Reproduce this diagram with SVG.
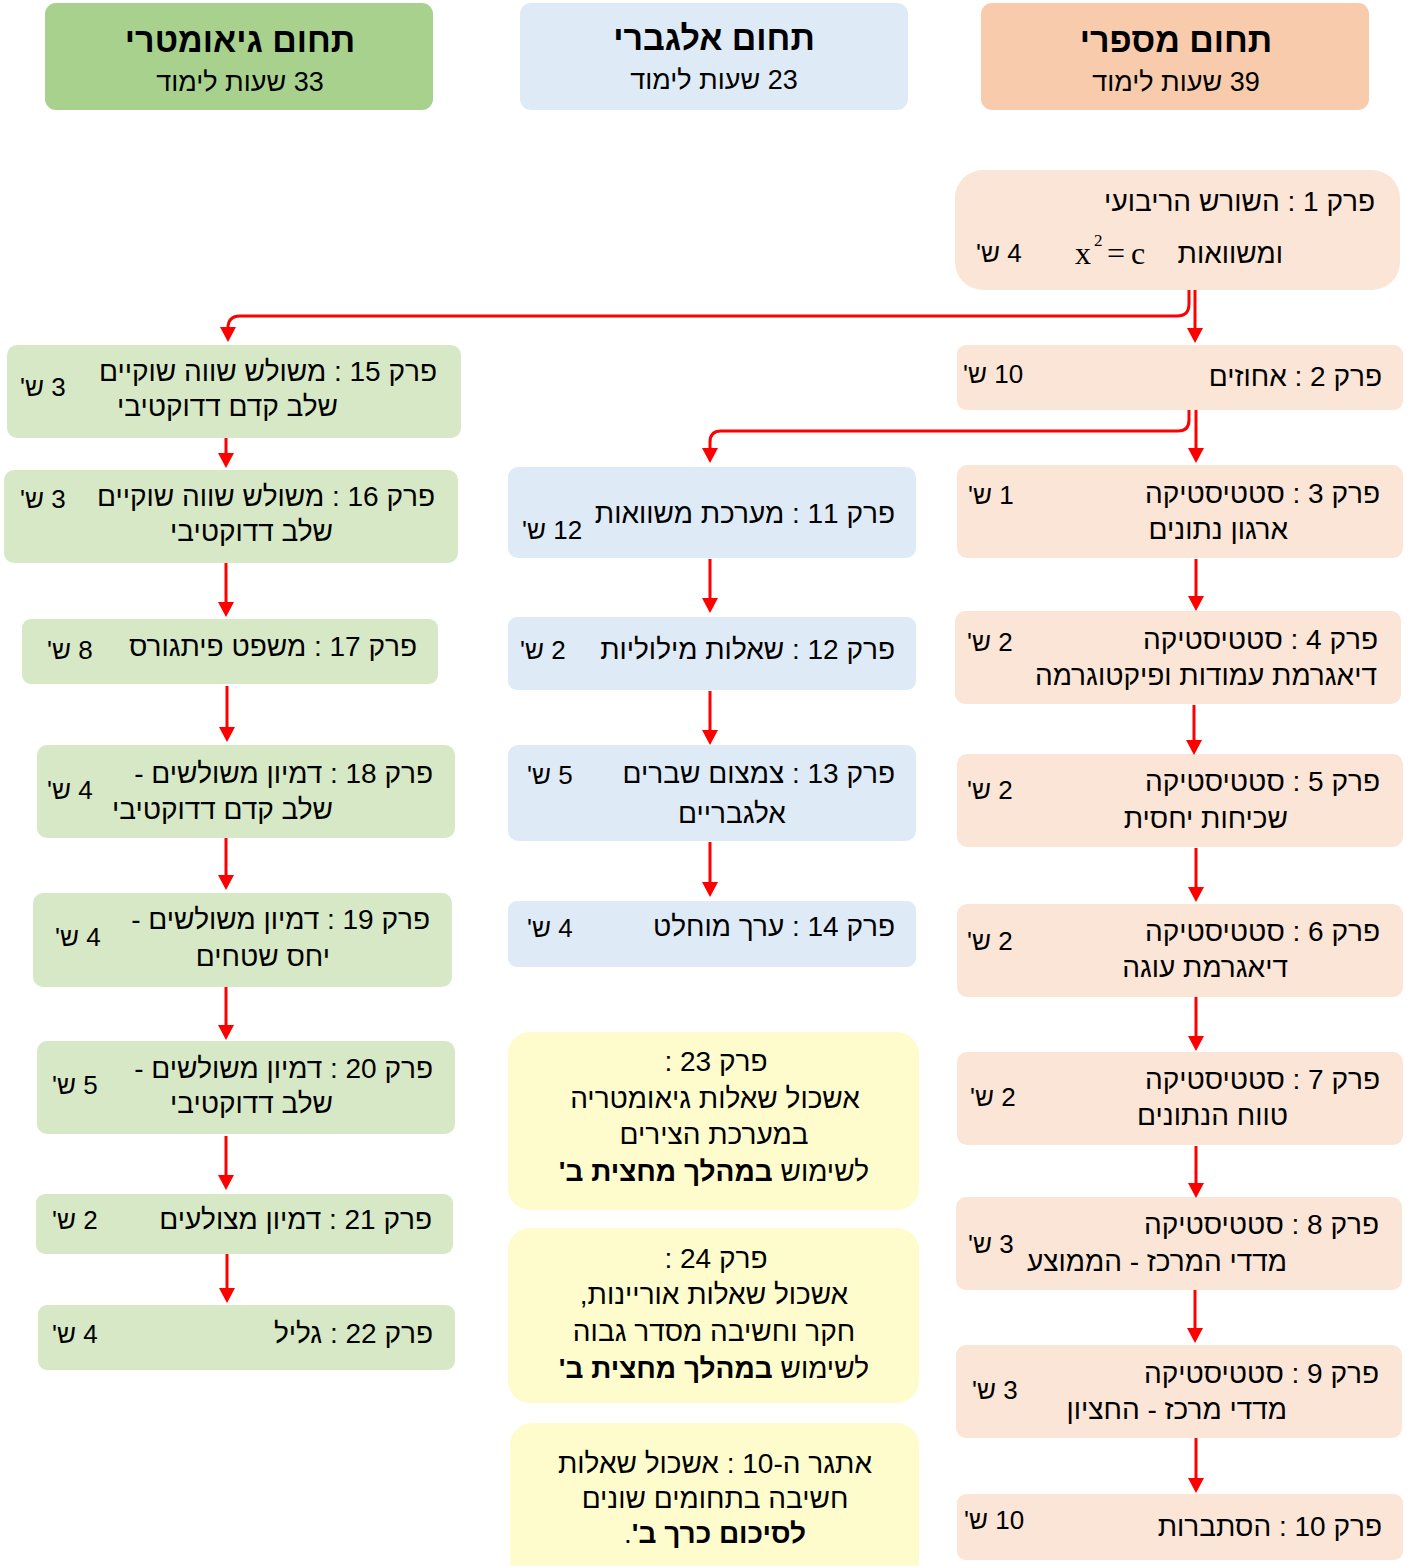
<svg xmlns="http://www.w3.org/2000/svg" width="1412" height="1566" viewBox="0 0 1412 1566">
<style>
text{font-family:"Liberation Sans","DejaVu Sans",sans-serif;font-size:28px;fill:#000;direction:rtl}
.r{text-anchor:start}
.l{text-anchor:end;font-size:26px}
.c{text-anchor:middle}
.h{font-size:34px;font-weight:bold}
.sub{font-size:27px}
.b{font-weight:bold}
.m{direction:ltr;font-family:"Liberation Serif",serif;font-size:32px}
.num{fill:#fbe5d6}
.numh{fill:#f8cbad}
.alg{fill:#deebf7}
.geo{fill:#d6e8c6}
.geoh{fill:#a9d18e}
.yel{fill:#fefccd}
.con path{fill:none;stroke:#ff0000;stroke-width:3}
</style>
<defs>
<marker id="ah" markerUnits="userSpaceOnUse" markerWidth="16" markerHeight="16" refX="11" refY="8" orient="auto">
<path d="M0,0 L15,8 L0,16 z" fill="#ff0000"/>
</marker>
</defs>

<g id="hdr-geo"><rect x="45" y="3" width="388" height="107" rx="11" class="geoh"/><text class="c h" x="240" y="52">תחום גיאומטרי</text><text class="c sub" x="240" y="91">33 שעות לימוד</text></g>
<g id="hdr-alg"><rect x="520" y="3" width="388" height="107" rx="11" class="alg"/><text class="c h" x="714" y="50">תחום אלגברי</text><text class="c sub" x="714" y="89">23 שעות לימוד</text></g>
<g id="hdr-num"><rect x="981" y="3" width="388" height="107" rx="11" class="numh"/><text class="c h" x="1176" y="52">תחום מספרי</text><text class="c sub" x="1176" y="91">39 שעות לימוד</text></g>

<g id="ch1"><rect x="955" y="170" width="445" height="120" rx="28" class="num"/><text class="r" x="1375" y="211">פרק 1 : השורש הריבועי</text><text class="r" x="1283" y="263">ומשוואות</text><text class="m" x="1075" y="264">x</text><text class="m" x="1094" y="246" style="font-size:17px">2</text><text class="m" x="1107" y="264">=</text><text class="m" x="1131" y="264">c</text><text class="l" x="976" y="262">4 ש'</text></g>
<g id="ch2"><rect x="957" y="345" width="446" height="65" rx="9" class="num"/><text class="r" x="1382" y="386">פרק 2 : אחוזים</text><text class="l" x="963" y="383">10 ש'</text></g>
<g id="ch3"><rect x="957" y="465" width="446" height="93" rx="10" class="num"/><text class="r" x="1380" y="503">פרק 3 : סטטיסטיקה</text><text class="r" x="1288" y="539">ארגון נתונים</text><text class="l" x="968" y="504">1 ש'</text></g>
<g id="ch4"><rect x="955" y="611" width="446" height="93" rx="10" class="num"/><text class="r" x="1378" y="649">פרק 4 : סטטיסטיקה</text><text class="r" x="1377" y="685">דיאגרמת עמודות ופיקטוגרמה</text><text class="l" x="967" y="651">2 ש'</text></g>
<g id="ch5"><rect x="957" y="754" width="446" height="93" rx="10" class="num"/><text class="r" x="1380" y="791">פרק 5 : סטטיסטיקה</text><text class="r" x="1288" y="828">שכיחות יחסית</text><text class="l" x="967" y="799">2 ש'</text></g>
<g id="ch6"><rect x="957" y="904" width="446" height="93" rx="10" class="num"/><text class="r" x="1380" y="941">פרק 6 : סטטיסטיקה</text><text class="r" x="1288" y="977">דיאגרמת עוגה</text><text class="l" x="967" y="950">2 ש'</text></g>
<g id="ch7"><rect x="957" y="1052" width="446" height="93" rx="10" class="num"/><text class="r" x="1380" y="1089">פרק 7 : סטטיסטיקה</text><text class="r" x="1288" y="1125">טווח הנתונים</text><text class="l" x="970" y="1106">2 ש'</text></g>
<g id="ch8"><rect x="956" y="1197" width="446" height="93" rx="10" class="num"/><text class="r" x="1379" y="1234">פרק 8 : סטטיסטיקה</text><text class="r" x="1287" y="1271">מדדי המרכז - הממוצע</text><text class="l" x="968" y="1253">3 ש'</text></g>
<g id="ch9"><rect x="956" y="1345" width="446" height="93" rx="10" class="num"/><text class="r" x="1379" y="1383">פרק 9 : סטטיסטיקה</text><text class="r" x="1287" y="1419">מדדי מרכז - החציון</text><text class="l" x="972" y="1399">3 ש'</text></g>
<g id="ch10"><rect x="957" y="1494" width="446" height="66" rx="9" class="num"/><text class="r" x="1382" y="1536">פרק 10 : הסתברות</text><text class="l" x="964" y="1529">10 ש'</text></g>

<g id="ch11"><rect x="508" y="467" width="408" height="91" rx="10" class="alg"/><text class="r" x="895" y="523">פרק 11 : מערכת משוואות</text><text class="l" x="522" y="539">12 ש'</text></g>
<g id="ch12"><rect x="508" y="617" width="408" height="73" rx="9" class="alg"/><text class="r" x="895" y="659">פרק 12 : שאלות מילוליות</text><text class="l" x="520" y="659">2 ש'</text></g>
<g id="ch13"><rect x="508" y="745" width="408" height="96" rx="10" class="alg"/><text class="r" x="895" y="783">פרק 13 : צמצום שברים</text><text class="c" x="732" y="823">אלגבריים</text><text class="l" x="527" y="784">5 ש'</text></g>
<g id="ch14"><rect x="508" y="901" width="408" height="66" rx="9" class="alg"/><text class="r" x="895" y="936">פרק 14 : ערך מוחלט</text><text class="l" x="527" y="937">4 ש'</text></g>

<g id="ch23"><rect x="508" y="1032" width="411" height="178" rx="22" class="yel"/><text class="c" x="716" y="1071">פרק 23 :</text><text class="c" x="715" y="1108">אשכול שאלות גיאומטריה</text><text class="c" x="714" y="1144">במערכת הצירים</text><text class="c" x="714" y="1181">לשימוש <tspan class="b">במהלך מחצית ב'</tspan></text></g>
<g id="ch24"><rect x="508" y="1228" width="411" height="175" rx="22" class="yel"/><text class="c" x="716" y="1268">פרק 24 :</text><text class="c" x="714" y="1304">אשכול שאלות אוריינות,</text><text class="c" x="714" y="1341">חקר וחשיבה מסדר גבוה</text><text class="c" x="714" y="1378">לשימוש <tspan class="b">במהלך מחצית ב'</tspan></text></g>
<g id="etgar"><rect x="510" y="1423" width="409" height="160" rx="22" class="yel"/><text class="c" x="715" y="1473">אתגר ה-10 : אשכול שאלות</text><text class="c" x="715" y="1508">חשיבה בתחומים שונים</text><text class="c" x="715" y="1543"><tspan class="b">לסיכום כרך ב'</tspan>.</text></g>

<g id="ch15"><rect x="7" y="345" width="454" height="93" rx="10" class="geo"/><text class="r" x="437" y="381">פרק 15 : משולש שווה שוקיים</text><text class="r" x="338" y="416">שלב קדם דדוקטיבי</text><text class="l" x="20" y="396">3 ש'</text></g>
<g id="ch16"><rect x="4" y="470" width="454" height="93" rx="10" class="geo"/><text class="r" x="435" y="506">פרק 16 : משולש שווה שוקיים</text><text class="r" x="333" y="541">שלב דדוקטיבי</text><text class="l" x="20" y="508">3 ש'</text></g>
<g id="ch17"><rect x="22" y="619" width="416" height="65" rx="9" class="geo"/><text class="r" x="417" y="656">פרק 17 : משפט פיתגורס</text><text class="l" x="47" y="659">8 ש'</text></g>
<g id="ch18"><rect x="37" y="745" width="418" height="93" rx="10" class="geo"/><text class="r" x="433" y="783">פרק 18 : דמיון משולשים -</text><text class="r" x="333" y="819">שלב קדם דדוקטיבי</text><text class="l" x="47" y="799">4 ש'</text></g>
<g id="ch19"><rect x="33" y="893" width="419" height="94" rx="10" class="geo"/><text class="r" x="430" y="929">פרק 19 : דמיון משולשים -</text><text class="r" x="330" y="966">יחס שטחים</text><text class="l" x="55" y="946">4 ש'</text></g>
<g id="ch20"><rect x="37" y="1041" width="418" height="93" rx="10" class="geo"/><text class="r" x="433" y="1078">פרק 20 : דמיון משולשים -</text><text class="r" x="333" y="1113">שלב דדוקטיבי</text><text class="l" x="52" y="1094">5 ש'</text></g>
<g id="ch21"><rect x="36" y="1194" width="417" height="60" rx="9" class="geo"/><text class="r" x="432" y="1229">פרק 21 : דמיון מצולעים</text><text class="l" x="52" y="1229">2 ש'</text></g>
<g id="ch22"><rect x="38" y="1305" width="417" height="65" rx="9" class="geo"/><text class="r" x="433" y="1343">פרק 22 : גליל</text><text class="l" x="52" y="1343">4 ש'</text></g>

<g id="connectors" class="con">
<path d="M1189 290 V304 Q1189 316 1177 316 H240 Q228 316 228 328 V338" marker-end="url(#ah)"/>
<path d="M1195 290 V339" marker-end="url(#ah)"/>
<path d="M1189 410 V420 Q1189 431 1178 431 H721 Q710 431 710 442 V459" marker-end="url(#ah)"/>
<path d="M1196 410 V459" marker-end="url(#ah)"/>
<path d="M1196 559 V607" marker-end="url(#ah)"/>
<path d="M1194 705 V751" marker-end="url(#ah)"/>
<path d="M1196 848 V898" marker-end="url(#ah)"/>
<path d="M1196 997 V1047" marker-end="url(#ah)"/>
<path d="M1196 1146 V1194" marker-end="url(#ah)"/>
<path d="M1195 1290 V1339" marker-end="url(#ah)"/>
<path d="M1196 1438 V1489" marker-end="url(#ah)"/>
<path d="M710 559 V609" marker-end="url(#ah)"/>
<path d="M710 691 V741" marker-end="url(#ah)"/>
<path d="M710 842 V893" marker-end="url(#ah)"/>
<path d="M226 438 V464" marker-end="url(#ah)"/>
<path d="M226 563 V613" marker-end="url(#ah)"/>
<path d="M227 686 V738" marker-end="url(#ah)"/>
<path d="M226 838 V886" marker-end="url(#ah)"/>
<path d="M226 987 V1036" marker-end="url(#ah)"/>
<path d="M226 1136 V1186" marker-end="url(#ah)"/>
<path d="M227 1254 V1299" marker-end="url(#ah)"/>
</g>
</svg>
